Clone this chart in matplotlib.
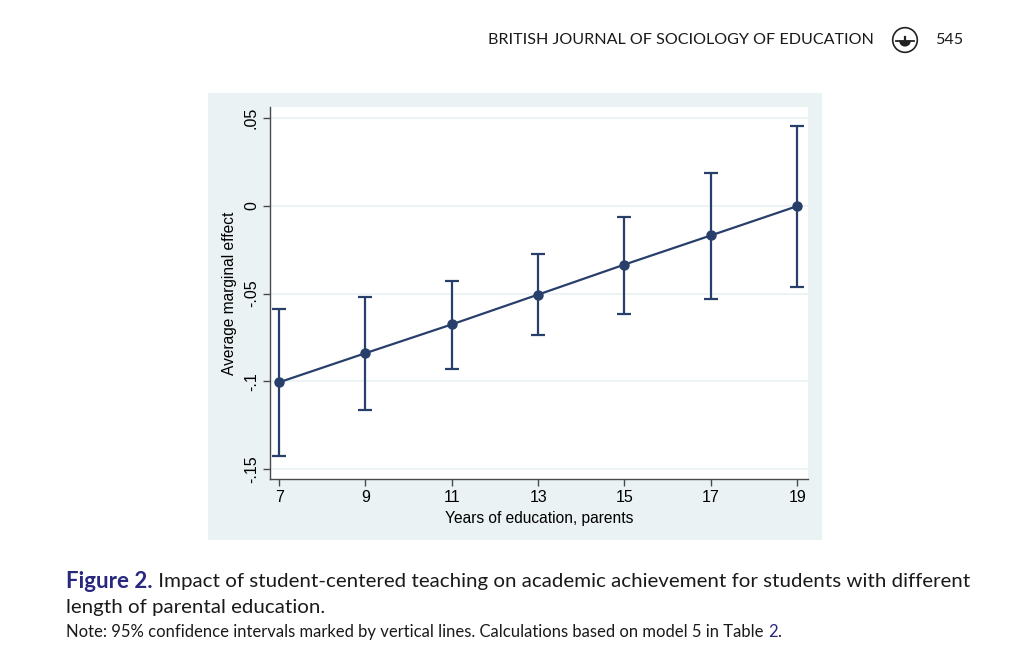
import matplotlib
matplotlib.use("Agg")
import matplotlib.pyplot as plt
from matplotlib.patches import Circle, Wedge
import logging
logging.getLogger("matplotlib.font_manager").setLevel(logging.ERROR)

# ---- data ----
years = [7, 9, 11, 13, 15, 17, 19]
effect = [-0.1006, -0.0840, -0.0676, -0.0506, -0.0335, -0.0169, -0.0002]
ci_low = [-0.1426, -0.1165, -0.0932, -0.0739, -0.0619, -0.0530, -0.0460]
ci_high = [-0.0590, -0.0517, -0.0426, -0.0273, -0.0063, 0.0188, 0.0456]
x_ticks = [7, 9, 11, 13, 15, 17, 19]
y_ticks = [-0.15, -0.10, -0.05, 0.0, 0.05]
y_tick_labels = ["-.15", "-.1", "-.05", "0", ".05"]

header_text = "BRITISH JOURNAL OF SOCIOLOGY OF EDUCATION"
page_no = "545"
fig_label = "Figure 2."
caption_1 = " Impact of student-centered teaching on academic achievement for students with different"
caption_2 = "length of parental education."
note_a = "Note: 95% confidence intervals marked by vertical lines. Calculations based on model 5 in Table "
note_b = "2"
note_c = "."

W, H = 1030, 660
NAVY = "#283f6c"
STATA_BG = "#eaf2f3"
BLUE = "#27277e"

plt.rcParams["font.family"] = ["Liberation Sans", "DejaVu Sans"]

fig = plt.figure(figsize=(W / 100, H / 100), dpi=100)
fig.patch.set_facecolor("white")

def fx(x):
    return x / W

def fy(y):
    return 1 - y / H

# chart panel background (an axes underneath the plot)
bg = fig.add_axes([fx(208), fy(540), (822 - 208) / W, (540 - 93) / H], zorder=-5)
bg.set_facecolor(STATA_BG)
bg.set_xticks([]); bg.set_yticks([])
for s in bg.spines.values():
    s.set_visible(False)

ax = fig.add_axes([fx(270), fy(479), (808 - 270) / W, (479 - 107) / H], zorder=1)
ax.set_facecolor("white")
ax.set_xlim(6.79, 19.25)
ax.set_ylim(-0.1557, 0.0563)

for v in y_ticks:
    ax.axhline(v, color=STATA_BG, lw=1.3, zorder=1)

yerr = [[e - l for e, l in zip(effect, ci_low)], [h - e for e, h in zip(effect, ci_high)]]
ax.errorbar(years, effect, yerr=yerr, fmt="none", ecolor=NAVY, elinewidth=1.6,
            capsize=5, capthick=1.6, zorder=3)
ax.plot(years, effect, color=NAVY, lw=1.6, marker="o", markersize=6.5, zorder=4)

for s in ["top", "right"]:
    ax.spines[s].set_visible(False)
for s in ["left", "bottom"]:
    ax.spines[s].set_color("#4a4a4a")
    ax.spines[s].set_linewidth(1.0)

ax.set_xticks(x_ticks)
ax.set_xticklabels([str(t) for t in x_ticks])
ax.set_yticks(y_ticks)
ax.set_yticklabels(y_tick_labels, rotation=90, va="center")
ax.tick_params(axis="both", direction="out", length=5, width=1.0, color="#4a4a4a",
               labelcolor="black", pad=3, labelsize=11.5,
               labelfontfamily="Liberation Sans")
ax.set_xlabel("Years of education, parents", family="Liberation Sans", size=11.2, labelpad=4)
ax.set_ylabel("Average marginal effect", family="Liberation Sans", size=11.2, labelpad=5)

# ---- page texts ----
renderer = fig.canvas.get_renderer()
cap_family = ["Liberation Sans Narrow", "Lato"]

def fit_text(x, y, s, width_px, family=cap_family, base=12, **kw):
    t = fig.text(fx(x), fy(y), s, family=family, fontsize=base, va="center", **kw)
    w = t.get_window_extent(renderer).width
    t.set_fontsize(base * width_px / w)
    return t

fit_text(488, 40, header_text, 384, color="#1a1a1a")
fit_text(935, 40, page_no, 28, color="#1a1a1a")

# logo
ax_logo = fig.add_axes([fx(891), fy(54), 28 / W, 28 / H])
ax_logo.set_xlim(-1, 1); ax_logo.set_ylim(-1, 1); ax_logo.set_aspect("equal")
ax_logo.axis("off")
ax_logo.add_patch(Circle((0, 0), 0.88, facecolor="none", edgecolor="#222222", lw=1.2))
ax_logo.add_patch(Wedge((0, -0.05), 0.42, 180, 360, facecolor="#222222"))
ax_logo.plot([-0.62, 0.62], [-0.05, -0.05], color="#222222", lw=1.3)
ax_logo.plot([0, 0], [-0.05, 0.22], color="#222222", lw=1.6)

# caption
t1 = fit_text(66, 582, fig_label, 86, color=BLUE, fontweight="bold")
fig.canvas.draw()
x_end = t1.get_window_extent(renderer).x1
t1b = fit_text(x_end, 582, caption_1, 966 - x_end, color="#1a1a1a")
fig.text(fx(66), fy(607), caption_2, family=cap_family,
         fontsize=t1b.get_fontsize(), va="center", color="#1a1a1a")

na = fit_text(66, 632, note_a, 700, color="#1a1a1a")
fig.canvas.draw()
xb = na.get_window_extent(renderer).x1
nb = fig.text(xb / W, fy(632), note_b, family=cap_family, fontsize=na.get_fontsize(),
              va="center", color=BLUE)
fig.canvas.draw()
xc = nb.get_window_extent(renderer).x1
fig.text(xc / W, fy(632), note_c, family=cap_family, fontsize=na.get_fontsize(),
         va="center", color="#1a1a1a")

fig.savefig("out.png", dpi=100, facecolor="white")
